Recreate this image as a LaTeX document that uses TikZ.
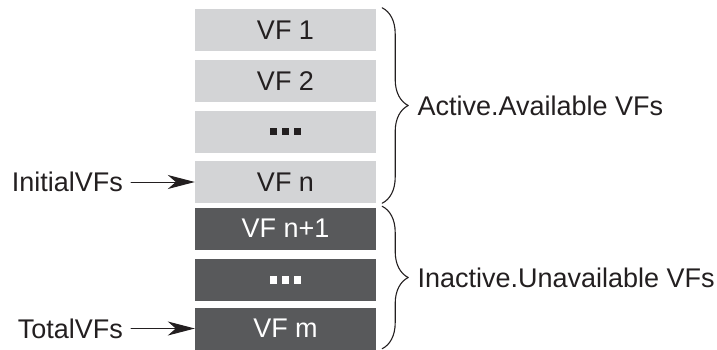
\documentclass[tikz,border=0pt]{standalone}
\usepackage{fontspec}
\setmainfont{Liberation Sans}
\usetikzlibrary{arrows.meta,decorations.pathreplacing,positioning}
\definecolor{vflight}{RGB}{211,212,214}
\definecolor{vfdark}{RGB}{88,89,91}
\definecolor{ink}{RGB}{35,31,32}
\newcommand{\sqdots}{\rule{7.3pt}{7.3pt}\hspace{4.4pt}\rule{7.3pt}{7.3pt}\hspace{4.4pt}\rule{7.3pt}{7.3pt}}
\tikzset{
	vfon/.style={fill=vflight, text=ink, minimum width=181pt, minimum height=42pt, inner sep=0pt},
	vfoff/.style={vfon, fill=vfdark, text=white},
	vfbrace/.style={decorate, decoration={brace, amplitude=26pt}, draw=ink, line width=1.1pt},
	tag/.style={text=ink, anchor=east, inner sep=4pt}
}
\begin{document}
\begin{tikzpicture}[x=1pt, y=-1pt, font=\fontsize{27}{32}\selectfont, line join=round, line cap=round, >={Stealth[length=27pt,width=14pt,inset=8pt]}]
			\useasboundingbox (0,0) rectangle (717,349);
			\def \xbox{285.5}
			% active VFs
			\node[vfon] (vf1) at (\xbox,30) {VF 1};
			\node[vfon] (vf2) at (\xbox,81) {VF 2};
			\node[vfon] (vf3) at (\xbox,131.5) {\sqdots};
			\node[vfon] (vf4) at (\xbox,182) {VF n};
			% inactive VFs
			\node[vfoff] (vf5) at (\xbox,228.5) {VF n+1};
			\node[vfoff] (vf6) at (\xbox,280) {\sqdots};
			\node[vfoff] (vf7) at (\xbox,328.5) {VF m};
			% pointers
			\node[tag] (initial) at (127,182) {InitialVFs};
			\node[tag] (total) at (127,328.5) {TotalVFs};
			\draw[->, ink, line width=1pt, shorten <=4pt] (initial) -- (vf4);
			\draw[->, ink, line width=1pt, shorten <=4pt] (total) -- (vf7);
			% braces
			\draw[vfbrace] ([xshift=6pt,yshift=1pt]vf1.north east) -- ([xshift=6pt]vf4.south east)
				node[midway, right=31.5pt, text=ink] (active) {Active.Available VFs};
			\draw[vfbrace] ([xshift=6pt,yshift=1pt]vf5.north east) -- ([xshift=6pt,yshift=1pt]vf7.south east)
				node[midway, right=31.5pt, text=ink] (inactive) {Inactive.Unavailable VFs};
		\end{tikzpicture}
\end{document}
